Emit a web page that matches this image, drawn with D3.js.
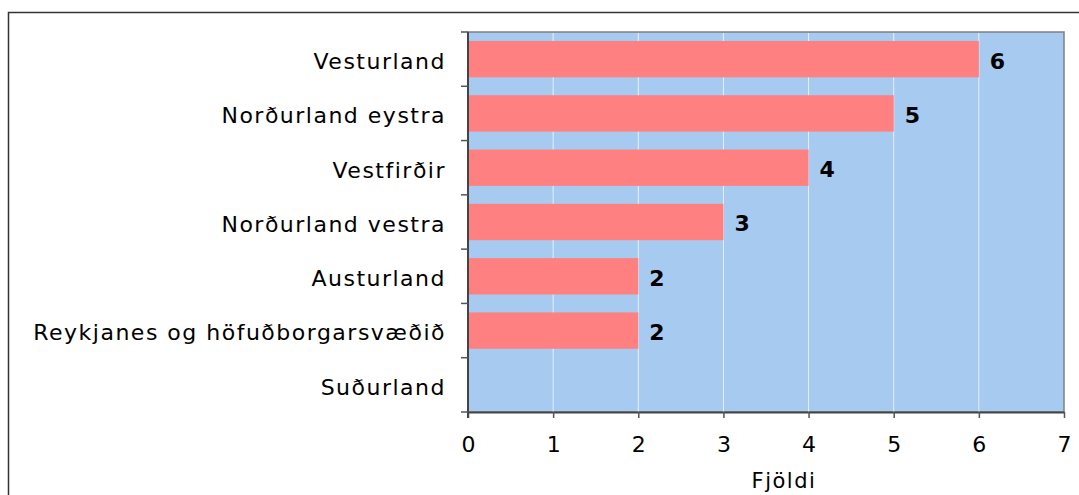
<!DOCTYPE html>
<html>
<head>
<meta charset="utf-8">
<script src="https://cdn.jsdelivr.net/npm/d3@7"></script>
<style>
  body { margin: 0; background: #fff; }
  svg text { font-family: "DejaVu Sans", Verdana, sans-serif; fill: #000; }
</style>
</head>
<body>
<script>
// data
let regions = ["Vesturland", "Norðurland eystra", "Vestfirðir", "Norðurland vestra",
               "Austurland", "Reykjanes og höfuðborgarsvæðið", "Suðurland"];
let counts = [6, 5, 4, 3, 2, 2, 0];
let xTicks = [0, 1, 2, 3, 4, 5, 6, 7];
let xTitle = "Fjöldi";

let width = 1079, height = 495;
let margin = {left: 468, top: 32, right: 1079 - 1064, bottom: 495 - 412};

let svg = d3.select("body").append("svg")
  .attr("width", width)
  .attr("height", height);

// outer frame (cut off on right and bottom)
svg.append("rect")
  .attr("x", 8.5).attr("y", 12.5)
  .attr("width", 1100).attr("height", 600)
  .attr("fill", "none")
  .attr("stroke", "#333")
  .attr("stroke-width", 1.5);

let x = d3.scaleLinear()
  .domain([0, 7])
  .range([margin.left, width - margin.right]);

let y = d3.scaleBand()
  .domain(regions)
  .range([margin.top, height - margin.bottom])
  .paddingInner(0.33)
  .paddingOuter(0.165);

let bandFull = (y.range()[1] - y.range()[0]) / regions.length;

// plot background
svg.append("rect")
  .attr("x", x(0)).attr("y", margin.top)
  .attr("width", x(7) - x(0))
  .attr("height", height - margin.bottom - margin.top)
  .attr("fill", "#a6caf0")
  .attr("stroke", "#808080")
  .attr("stroke-width", 1.5);

// vertical gridlines
svg.append("g").selectAll("line")
  .data(xTicks.slice(1, -1))
  .enter().append("line")
  .attr("x1", d => x(d)).attr("x2", d => x(d))
  .attr("y1", margin.top + 1).attr("y2", height - margin.bottom)
  .attr("stroke", "#e8f0fa")
  .attr("stroke-width", 1);

// bars
svg.append("g").selectAll("rect")
  .data(regions)
  .enter().append("rect")
  .attr("x", x(0))
  .attr("y", d => y(d))
  .attr("width", (d, i) => x(counts[i]) - x(0))
  .attr("height", y.bandwidth())
  .attr("fill", "#ff8080");

// value labels
svg.append("g").selectAll("text")
  .data(regions.filter((d, i) => counts[i] > 0))
  .enter().append("text")
  .attr("x", d => x(counts[regions.indexOf(d)]) + 11)
  .attr("y", d => y(d) + y.bandwidth() / 2 + 1.5)
  .attr("dy", "0.36em")
  .style("font-size", "22px")
  .style("font-weight", "bold")
  .text(d => counts[regions.indexOf(d)]);

// x axis
let xAxis = svg.append("g")
  .attr("transform", "translate(0," + (height - margin.bottom) + ")")
  .call(d3.axisBottom(x).tickValues(xTicks).tickFormat(d3.format("d"))
    .tickSize(6).tickSizeOuter(0).tickPadding(10));
xAxis.select(".domain").attr("stroke", "#444").attr("stroke-width", 2);
xAxis.selectAll(".tick line").attr("stroke", "#555").attr("stroke-width", 1.5);
xAxis.selectAll("text")
  .attr("y", 40).attr("dy", null)
  .style("font-size", "22px").attr("fill", "#000");

// y axis (ticks at band boundaries)
let yAxis = svg.append("g").attr("transform", "translate(" + x(0) + ",0)");
yAxis.append("line")
  .attr("x1", 0).attr("x2", 0)
  .attr("y1", margin.top).attr("y2", height - margin.bottom + 6)
  .attr("stroke", "#444").attr("stroke-width", 2);
yAxis.selectAll(".yt")
  .data(d3.range(regions.length + 1))
  .enter().append("line")
  .attr("class", "yt")
  .attr("x1", -7).attr("x2", 0)
  .attr("y1", i => margin.top + i * bandFull)
  .attr("y2", i => margin.top + i * bandFull)
  .attr("stroke", "#555").attr("stroke-width", 1.5);
yAxis.selectAll(".yl")
  .data(regions)
  .enter().append("text")
  .attr("class", "yl")
  .attr("x", -22)
  .attr("y", (d, i) => margin.top + (i + 0.5) * bandFull + 2)
  .attr("dy", "0.36em")
  .attr("text-anchor", "end")
  .style("font-size", "22px")
  .style("letter-spacing", "1.5px")
  .text(d => d);

// axis title
svg.append("text")
  .attr("x", 784)
  .attr("y", 488)
  .attr("text-anchor", "middle")
  .style("font-size", "21px")
  .style("letter-spacing", "1.5px")
  .text(xTitle);
</script>
</body>
</html>
